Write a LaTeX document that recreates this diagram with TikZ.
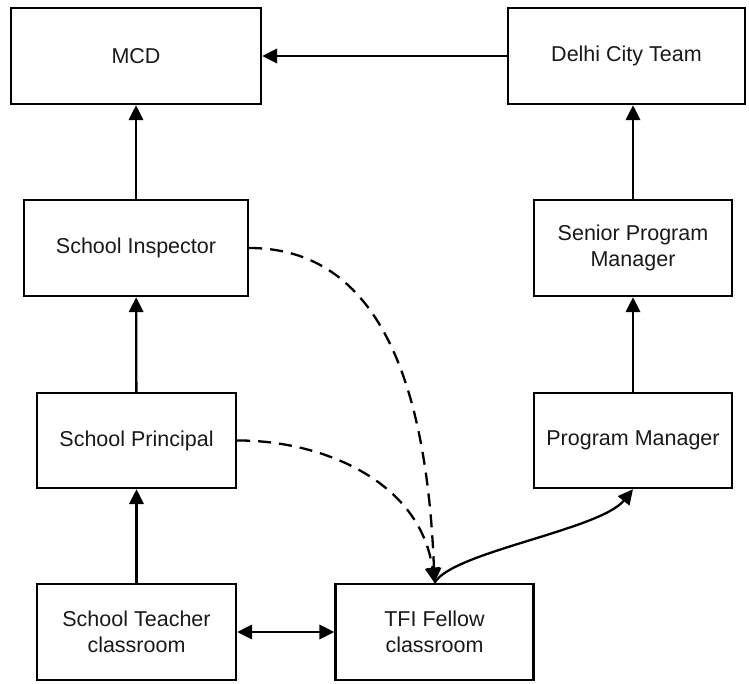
\documentclass[tikz,border=0pt]{standalone}
\usepackage{fontspec}
\setmainfont{Liberation Sans}
\usetikzlibrary{arrows.meta}
\begin{document}
\begin{tikzpicture}[x=1pt,y=-1pt,
  box/.style={draw=black,line width=2.4pt,inner sep=0pt,align=center,
    text=black!90,font=\fontsize{21.5}{26}\selectfont},
  arr/.style={line width=2.3pt,-{Triangle[length=15pt,width=14.5pt]}},
  darr/.style={arr,dash pattern=on 13pt off 8pt},
  biarr/.style={line width=2.3pt,{Triangle[length=15pt,width=14.5pt]}-{Triangle[length=15pt,width=14.5pt]}}]
\useasboundingbox (0,0) rectangle (749,683);
\node[box,minimum width=250pt,minimum height=96pt] (mcd) at (136,56) {MCD};
\node[box,minimum width=237pt,minimum height=96pt] (del) at (626.5,56) {Delhi City Team};
\node[box,minimum width=224pt,minimum height=96pt] (ins) at (136,248) {School Inspector};
\node[box,minimum width=198pt,minimum height=96pt] (sen) at (633,248) {Senior Program\\Manager};
\node[box,minimum width=199pt,minimum height=95pt] (pri) at (136.5,440.5) {School Principal};
\node[box,minimum width=198pt,minimum height=95pt] (pm) at (633,440.5) {Program Manager};
\node[box,minimum width=199pt,minimum height=96pt] (tea) at (136.5,632) {School Teacher\\classroom};
\node[box,minimum width=198pt,minimum height=96pt] (tfi) at (434.5,632) {TFI Fellow\\classroom};
\draw[arr] (del) -- (mcd);
\draw[arr] (ins) -- (mcd);
\draw[arr] (pri) -- (ins);
\draw[arr] (tea) -- (pri);
\draw[arr] (pm) -- (sen);
\draw[arr] (sen.north) -- (sen.north |- del.south);
\draw[biarr] (tea) -- (tfi);
\draw[darr] (ins.east) .. controls (350,248) and (425,330) .. (tfi.north);
\draw[darr] (pri.east) .. controls (320,440) and (420,480) .. (tfi.north);
\draw[arr] (tfi.north) .. controls (452,552) and (600,530) .. (pm.south);
\end{tikzpicture}
\end{document}
